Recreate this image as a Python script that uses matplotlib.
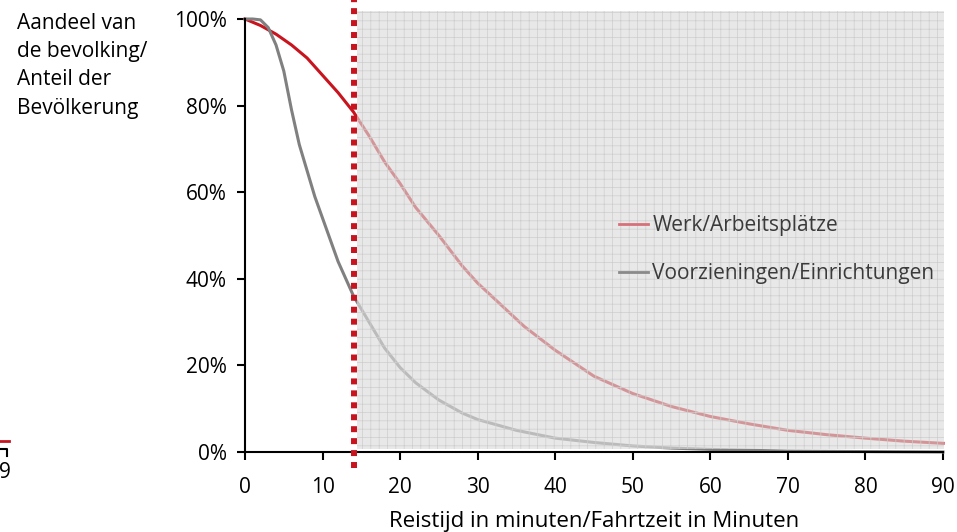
import matplotlib
matplotlib.use("Agg")
import matplotlib.pyplot as plt
from matplotlib.patches import Rectangle
from matplotlib.lines import Line2D
from matplotlib.transforms import Bbox

plt.rcParams['font.family'] = ['Open Sans', 'DejaVu Sans']
plt.rcParams['hatch.linewidth'] = 0.5

# data
minutes_werk = [0, 2, 4, 6, 8, 10, 12, 14, 16, 18, 20, 22, 25, 28, 30, 33, 36, 40, 45,
                50, 55, 60, 65, 70, 75, 80, 85, 90]
share_werk = [100, 98.5, 96.5, 94, 91, 87, 83, 78.5, 73, 67, 62, 56.5, 50, 43, 39, 34, 29,
              23.5, 17.5, 13.5, 10.5, 8.2, 6.5, 5, 4, 3.2, 2.5, 2]
minutes_voorz = [0, 1, 2, 3, 4, 5, 6, 7, 8, 9, 10, 11, 12, 13, 14, 16, 18, 20, 22, 25, 28,
                 30, 35, 40, 45, 50, 55, 60, 70, 80, 90]
share_voorz = [100, 100, 99.8, 98, 94, 88, 79, 71, 65, 59, 54, 49, 44, 40, 36, 30, 24, 19.5,
               16, 12, 9, 7.5, 5, 3.2, 2.2, 1.4, 0.9, 0.6, 0.2, 0.1, 0]
x_ticks = [0, 10, 20, 30, 40, 50, 60, 70, 80, 90]
y_ticks = [0, 20, 40, 60, 80, 100]
y_ticklabels = ['0%', '20%', '40%', '60%', '80%', '100%']
threshold = 14
labels = ['Werk/Arbeitsplätze', 'Voorzieningen/Einrichtungen']

red = '#c8141e'
grey = '#808080'

W, H = 957, 532
fig = plt.figure(figsize=(W / 100, H / 100), dpi=100)
ax = fig.add_axes([245 / W, 1 - 452 / H, (943 - 245) / W, (452 - 19) / H])

ax.plot(minutes_werk, share_werk, color=red, lw=2.2, clip_on=False, zorder=2)
ax.plot(minutes_voorz, share_voorz, color=grey, lw=2.2, clip_on=False, zorder=2)

# shaded zone beyond the threshold
ax.add_patch(Rectangle((threshold + 0.4, 0.6), 90 - threshold - 0.3, 101.2,
                       facecolor='#dcdcdc', alpha=0.65, edgecolor='none',
                       clip_on=False, zorder=3))
ax.add_patch(Rectangle((threshold + 0.4, 0.6), 90 - threshold - 0.3, 101.2,
                       facecolor='none', hatch='++', edgecolor='#cdcdcd', lw=0,
                       clip_on=False, zorder=3))

ax.plot([threshold, threshold], [-3.7, 104.4], color=red, lw=4.3,
        linestyle=(0, (1, 1)), dash_capstyle='butt', clip_on=False, zorder=4)

ax.set_xlim(0, 90)
ax.set_ylim(0, 100)
ax.set_xticks(x_ticks)
ax.set_yticks(y_ticks)
ax.set_yticklabels(y_ticklabels)
ax.tick_params(axis='x', direction='out', length=6, width=1.5, pad=12, labelsize=15)
ax.tick_params(axis='y', direction='out', length=6, width=1.5, pad=7, labelsize=15)
for s in ['top', 'right']:
    ax.spines[s].set_visible(False)
for s in ['left', 'bottom']:
    ax.spines[s].set_linewidth(1.5)

ax.set_xlabel('Reistijd in minuten/Fahrtzeit in Minuten', fontsize=16, labelpad=9)

fig.text(17 / W, 1 - 13 / H, 'Aandeel van\nde bevolking/\nAnteil der\nBevölkerung',
         fontsize=15, ha='left', va='top', linespacing=1.45)

handles = [Line2D([], [], color='#d8707a', lw=2),
           Line2D([], [], color='#8a8a8a', lw=2)]
leg = ax.legend(handles, labels, loc='upper left', bbox_to_anchor=(619 / W, 1 - 215 / H),
                bbox_transform=fig.transFigure, frameon=False, fontsize=15,
                handlelength=1.4, handletextpad=0.2, labelspacing=1.3,
                borderaxespad=0, borderpad=0)
leg.set_zorder(5)
for t in leg.get_texts():
    t.set_color('#3a3a3a')

# fragments of the neighbouring chart at the left edge
fig.add_artist(Line2D([0, 9 / W], [1 - 441 / H, 1 - 441 / H], color=red, lw=2,
                      transform=fig.transFigure))
fig.add_artist(Line2D([0, 7.5 / W, 7.5 / W], [1 - 449 / H, 1 - 449 / H, 1 - 456 / H],
                      color='black', lw=1.5, transform=fig.transFigure))
frag = fig.text(-1 / W, 1 - 473 / H, '90', fontsize=15, ha='left', va='center')
frag.set_clip_box(Bbox.from_extents(0, 0, 10.5, H))
frag.set_clip_on(True)

fig.savefig('out.png', dpi=100)
